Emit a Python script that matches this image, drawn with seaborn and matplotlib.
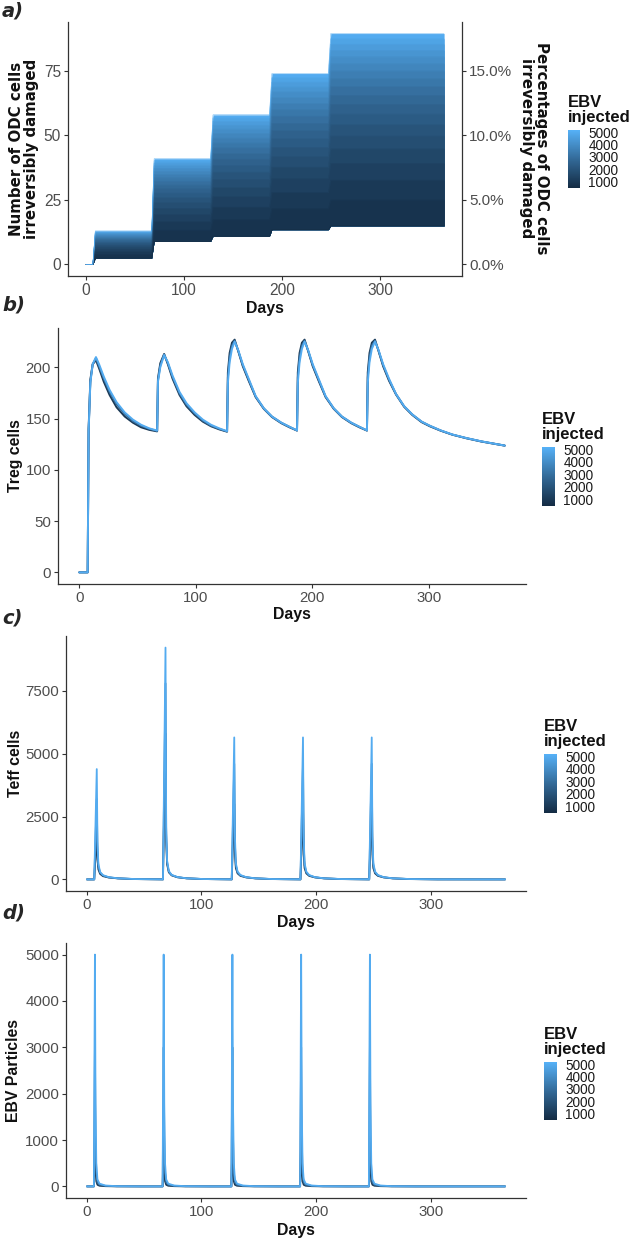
import numpy as np
import pandas as pd
import matplotlib
matplotlib.use('Agg')
import matplotlib.pyplot as plt
from matplotlib.colors import LinearSegmentedColormap, Normalize
from matplotlib.cm import ScalarMappable
from matplotlib.ticker import FuncFormatter
import seaborn as sns

# ---------------------------------------------------------------------
# data
# ---------------------------------------------------------------------
injection_days = [7, 67, 127, 187, 247]

# panel a: cumulative ODC cells damaged after each injection, per EBV dose
ebv_grid = [500, 750, 1000, 1250, 1500, 1750, 2000, 2250, 2500, 2750,
            3000, 3250, 3500, 3750, 4000, 4250, 4500, 4750, 5000]
odc_step1 = [2.5, 3.9, 5.0, 5.9, 6.7, 7.4, 8.0, 8.6, 9.1, 9.6,
             10.1, 10.5, 11.0, 11.4, 11.8, 12.1, 12.4, 12.7, 13.0]
odc_step2 = [9.0, 13.3, 16.6, 19.4, 21.8, 24.0, 25.9, 27.7, 29.3, 30.8,
             32.3, 33.6, 34.9, 36.1, 37.3, 38.3, 39.3, 40.2, 41.0]
odc_step3 = [11.0, 17.3, 22.2, 26.3, 29.8, 33.0, 35.8, 38.4, 40.8, 43.0,
             45.2, 47.1, 49.0, 50.8, 52.5, 54.0, 55.5, 56.8, 58.0]
odc_step4 = [13.5, 21.6, 27.9, 33.2, 37.7, 41.8, 45.4, 48.8, 51.9, 54.7,
             57.5, 60.0, 62.4, 64.7, 66.9, 68.8, 70.7, 72.4, 74.0]
odc_step5 = [15.0, 25.0, 32.7, 39.2, 44.8, 49.8, 54.2, 58.3, 62.1, 65.6,
             69.0, 72.0, 75.0, 77.8, 80.5, 83.0, 85.4, 87.5, 89.5]
odc_days = [0, 7, 9.5, 67, 69.5, 127, 129.5, 187, 189.5, 247, 249.5, 365]
odc_total_cells = 500

# panels b-d: runs shown for three doses
ebv_runs = [1000, 3000, 5000]

treg_days = [0, 7.2, 8.0, 9.5, 11.5, 14.3, 17, 21, 26, 32, 39, 46, 53, 60, 66.8,
             67.5, 69.5, 72.8, 76, 80, 86, 92, 99, 106, 113, 120, 126.8,
             127.5, 129, 131, 133.3, 136.3, 140.3, 145.3, 151.3, 158.3, 165.3, 173.3, 180.3, 186.8,
             187.5, 189, 191, 193.3, 196.3, 200.3, 205.3, 211.3, 218.3, 225.3, 233.3, 240.3, 246.8,
             247.5, 249, 251, 253.7, 256.7, 260.7, 265.7, 271.7, 278.7, 285.7, 293.7, 300.7,
             310, 320, 332, 345, 356, 365]
treg_1000 = [0, 0, 140, 188, 203, 207, 199, 186, 173, 161, 152, 146, 141.5, 139, 137.5,
             189, 204, 213, 203, 189, 173, 162, 153.5, 147, 142.5, 139.5, 137.2,
             195, 214, 224, 227, 216, 201, 187, 171, 159.5, 151.5, 145.5, 141.5, 138.3,
             195, 214, 224, 227, 216, 201, 187, 171, 159.5, 151.5, 145.5, 141.5, 138.3,
             195, 214, 224, 227, 216, 201, 187, 173.5, 161.5, 153.5, 146.5, 142.5,
             138.2, 134.3, 130.8, 127.6, 125.4, 123.6]
treg_3000 = [0, 0, 138, 186, 203, 209, 201, 189, 176, 164, 154.5, 147.5, 143, 140, 138,
             187, 202, 212.5, 204, 190.5, 174.5, 163.5, 155, 148, 143, 140, 137.5,
             190, 210, 221, 226, 216.5, 202, 188, 171.5, 160, 152, 146, 142, 138.4,
             190, 210, 221, 226, 216.5, 202, 188, 171.5, 160, 152, 146, 142, 138.4,
             190, 210, 221, 226, 216.5, 202, 188, 174, 162, 154, 147, 143,
             138.4, 134.4, 131, 127.7, 125.5, 123.7]
treg_5000 = [0, 0, 137, 185, 203, 210, 203, 191, 178, 166, 156, 149, 144, 140.5, 138.3,
             186, 200, 212, 205, 192, 176, 165, 156, 149, 144, 140.5, 137.7,
             185, 205, 218, 225, 217, 203, 189, 172, 160, 152, 146, 142, 138.5,
             185, 205, 218, 225, 217, 203, 189, 172, 160, 152, 146, 142, 138.5,
             185, 205, 218, 225, 217, 203, 189, 174, 162, 154, 147, 143,
             138.5, 134.5, 131, 127.8, 125.5, 123.7]

# Teff: days after each injection, values per injection
teff_offsets = [-0.6, 1.6, 2.2, 3, 4.5, 7, 12, 20, 35, 59]
teff_1000 = [[0, 1890, 800, 400, 220, 130, 75, 40, 13, 2],
             [0, 5800, 1500, 600, 280, 160, 85, 42, 14, 2],
             [0, 3000, 1000, 450, 240, 140, 80, 40, 13, 2],
             [0, 3000, 1000, 450, 240, 140, 80, 40, 13, 2],
             [0, 3000, 1000, 450, 240, 140, 80, 40, 13, 2]]
teff_3000 = [[0, 3200, 1200, 520, 270, 155, 85, 43, 14, 2],
             [0, 7800, 1800, 680, 310, 170, 90, 44, 15, 2],
             [0, 4600, 1400, 560, 280, 160, 85, 43, 14, 2],
             [0, 4600, 1400, 560, 280, 160, 85, 43, 14, 2],
             [0, 4600, 1400, 560, 280, 160, 85, 43, 14, 2]]
teff_5000 = [[0, 4390, 1500, 620, 300, 170, 90, 45, 15, 2],
             [0, 9225, 2100, 750, 330, 180, 95, 45, 15, 2],
             [0, 5650, 1700, 650, 310, 175, 90, 45, 15, 2],
             [0, 5650, 1700, 650, 310, 175, 90, 45, 15, 2],
             [0, 5650, 1700, 650, 310, 175, 90, 45, 15, 2]]

# EBV particles: same spike after every injection
ebvp_offsets = [-0.9, 0, 0.5, 1.2, 2.2, 4, 9, 19, 40]
ebvp_1000 = [0, 1000, 380, 110, 35, 14, 5, 1, 0]
ebvp_3000 = [0, 3000, 1100, 300, 90, 36, 12, 3, 0]
ebvp_5000 = [0, 5000, 1800, 500, 150, 60, 20, 5, 0]

ebv_ticks = [1000, 2000, 3000, 4000, 5000]

# ---------------------------------------------------------------------
# long tables
# ---------------------------------------------------------------------
steps = [odc_step1, odc_step2, odc_step3, odc_step4, odc_step5]
rows = []
for i, ebv in enumerate(ebv_grid):
    lv = [s[i] for s in steps]
    vals = [0, 0, lv[0], lv[0], lv[1], lv[1], lv[2], lv[2], lv[3], lv[3], lv[4], lv[4]]
    for d, v in zip(odc_days, vals):
        rows.append((ebv, d, v))
df_odc = pd.DataFrame(rows, columns=['EBV', 'Days', 'ODC'])

rows = []
for ebv, vals in zip(ebv_runs, [treg_1000, treg_3000, treg_5000]):
    for d, v in zip(treg_days, vals):
        rows.append((ebv, d, v))
df_treg = pd.DataFrame(rows, columns=['EBV', 'Days', 'Treg'])

rows = []
for ebv, cycles in zip(ebv_runs, [teff_1000, teff_3000, teff_5000]):
    rows.append((ebv, 0, 0))
    for inj, vals in zip(injection_days, cycles):
        for o, v in zip(teff_offsets, vals):
            rows.append((ebv, inj + o, v))
    rows.append((ebv, 365, 0))
df_teff = pd.DataFrame(rows, columns=['EBV', 'Days', 'Teff'])

rows = []
for ebv, vals in zip(ebv_runs, [ebvp_1000, ebvp_3000, ebvp_5000]):
    rows.append((ebv, 0, 0))
    for inj in injection_days:
        for o, v in zip(ebvp_offsets, vals):
            rows.append((ebv, inj + o, v))
    rows.append((ebv, 365, 0))
df_ebvp = pd.DataFrame(rows, columns=['EBV', 'Days', 'Particles'])

# ---------------------------------------------------------------------
# style
# ---------------------------------------------------------------------
sns.set_theme(style='ticks')
plt.rcParams['font.family'] = ['Liberation Sans', 'DejaVu Sans']

cmap = LinearSegmentedColormap.from_list('gg_blue', ['#132B43', '#336A98', '#56B1F7'])
norm = Normalize(450, 5200)
sm = ScalarMappable(norm=norm, cmap=cmap)

W, H = 629, 1240
fig = plt.figure(figsize=(W / 100, H / 100), dpi=100)


def box(l, t, r, b):
    return [l / W, 1 - b / H, (r - l) / W, (b - t) / H]


def style_axes(ax, ylim, yticks):
    for s in ['top', 'right']:
        ax.spines[s].set_visible(False)
    for s in ['left', 'bottom']:
        ax.spines[s].set_color('#333333')
        ax.spines[s].set_linewidth(0.9)
    ax.tick_params(axis='both', length=3, width=0.8, color='#333333',
                   labelsize=10.8, labelcolor='#4d4d4d', pad=2)
    ax.set_xlim(-18.25, 383.25)
    ax.set_xticks([0, 100, 200, 300])
    ax.set_ylim(*ylim)
    ax.set_yticks(yticks)
    ax.set_xlabel('')
    ax.set_ylabel('')


def add_colorbar(l, t, r, b):
    cax = fig.add_axes(box(l, t, r, b))
    cb = fig.colorbar(sm, cax=cax, ticks=ebv_ticks)
    cb.outline.set_visible(False)
    cax.tick_params(length=2.5, width=0.8, color='white', direction='in',
                    left=True, right=True, labelsize=9.8, pad=6, labelcolor='#1a1a1a')
    fig.text(l / W, 1 - (t - 5) / H, 'EBV\ninjected', ha='left', va='bottom',
             fontsize=12, fontweight='bold', linespacing=1.0, color='#111111')


def title_text(x, y, s, rot=0, size=11.4, **kw):
    fig.text(x / W, 1 - y / H, s, ha='center', va='center', rotation=rot,
             fontsize=size, fontweight='bold', color='#111111', **kw)


def panel_label(y, s):
    fig.text(2 / W, 1 - y / H, s, ha='left', va='center', fontsize=14,
             fontweight='bold', style='italic', family='DejaVu Sans')


# ---------------------------------------------------------------------
# a) ODC cells damaged
# ---------------------------------------------------------------------
ax_a = fig.add_axes(box(68, 22, 462, 276))
# shade the band between runs: highest dose first, lower doses painted over it
base = df_odc[df_odc['EBV'] == ebv_grid[0]]['ODC'].values
for ebv in ebv_grid[:0:-1]:
    level = df_odc[df_odc['EBV'] == ebv]['ODC'].values
    ax_a.fill_between(odc_days, base, level, color=cmap(norm(ebv)), linewidth=0)
sns.lineplot(data=df_odc, x='Days', y='ODC', hue='EBV', palette=cmap, hue_norm=norm,
             units='EBV', estimator=None, sort=False, legend=False, linewidth=0.3, ax=ax_a)
style_axes(ax_a, (-4.475, 93.975), [0, 25, 50, 75])
sec = ax_a.secondary_yaxis('right', functions=(lambda c: c / odc_total_cells * 100,
                                               lambda p: p * odc_total_cells / 100))
sec.set_yticks([0, 5, 10, 15])
sec.yaxis.set_major_formatter(FuncFormatter(lambda v, p: f'{v:.1f}%'))
sec.spines['right'].set_color('#333333')
sec.spines['right'].set_linewidth(0.9)
sec.tick_params(length=3, width=0.8, color='#333333', labelsize=11,
                labelcolor='#4d4d4d', pad=2)
for lab in ax_a.get_xticklabels() + ax_a.get_yticklabels():
    lab.set_fontsize(11.2)

title_text(24, 149, 'Number of ODC cells\nirreversibly damaged', rot=90, size=10.8,
           family='DejaVu Sans', linespacing=1.0)
title_text(534, 148, 'Percentages of ODC cells\nirreversibly damaged', rot=270, size=10.8,
           family='DejaVu Sans', linespacing=1.0)
title_text(265, 308, 'Days')
add_colorbar(568, 130, 580, 188)
panel_label(11, 'a)')

# ---------------------------------------------------------------------
# b) Treg cells
# ---------------------------------------------------------------------
ax_b = fig.add_axes(box(58, 328, 526, 584))
sns.lineplot(data=df_treg, x='Days', y='Treg', hue='EBV', palette=cmap, hue_norm=norm,
             units='EBV', estimator=None, sort=False, legend=False, linewidth=1.4, ax=ax_b)
style_axes(ax_b, (-11.35, 238.35), [0, 50, 100, 150, 200])
title_text(16, 456, 'Treg cells', rot=90)
title_text(292, 615, 'Days')
add_colorbar(542, 447, 555, 506)
panel_label(305, 'b)')

# ---------------------------------------------------------------------
# c) Teff cells
# ---------------------------------------------------------------------
ax_c = fig.add_axes(box(66, 636, 526, 891))
sns.lineplot(data=df_teff, x='Days', y='Teff', hue='EBV', palette=cmap, hue_norm=norm,
             units='EBV', estimator=None, sort=False, legend=False, linewidth=1.3, ax=ax_c)
style_axes(ax_c, (-461, 9686), [0, 2500, 5000, 7500])
title_text(16, 763, 'Teff cells', rot=90)
title_text(296, 922, 'Days')
add_colorbar(544, 754, 557, 813)
panel_label(618, 'c)')

# ---------------------------------------------------------------------
# d) EBV particles
# ---------------------------------------------------------------------
ax_d = fig.add_axes(box(66, 943, 526, 1198))
sns.lineplot(data=df_ebvp, x='Days', y='Particles', hue='EBV', palette=cmap, hue_norm=norm,
             units='EBV', estimator=None, sort=False, legend=False, linewidth=1.3, ax=ax_d)
style_axes(ax_d, (-250, 5250), [0, 1000, 2000, 3000, 4000, 5000])
title_text(14, 1070, 'EBV Particles', rot=90)
title_text(296, 1230, 'Days')
add_colorbar(544, 1062, 557, 1120)
panel_label(913, 'd)')

fig.savefig('out.png', dpi=100, facecolor='white')
